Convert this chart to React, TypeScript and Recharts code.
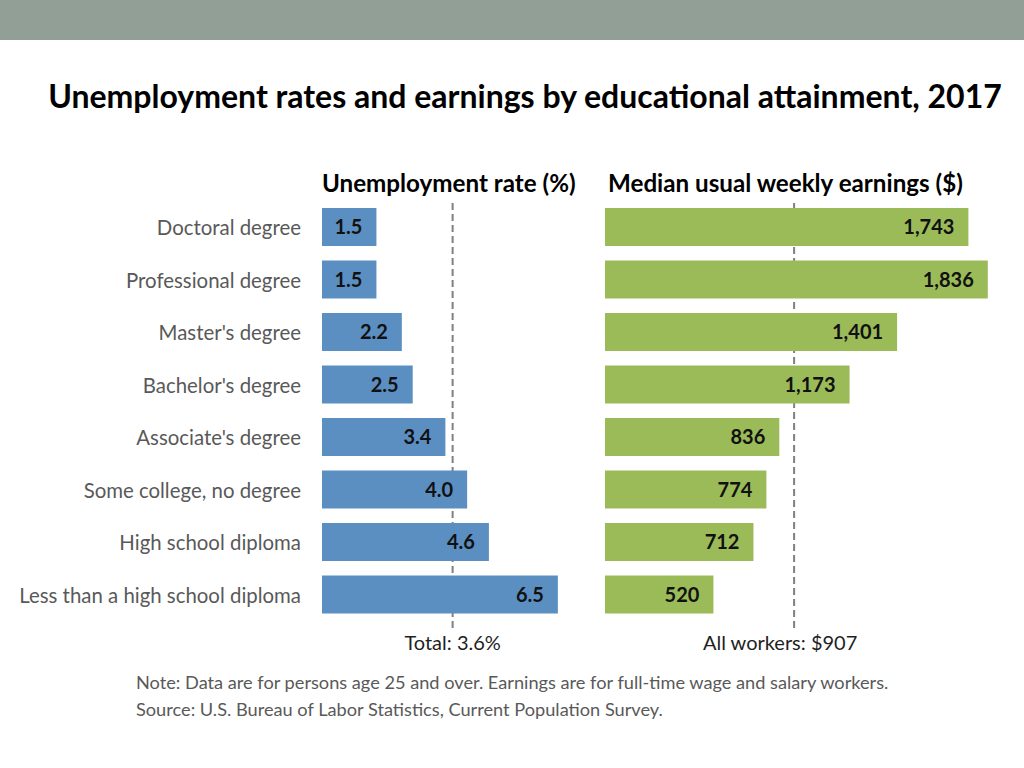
import React from "react";
import { BarChart, Bar, XAxis, YAxis, ReferenceLine, LabelList } from "recharts";

const categories = [
  "Doctoral degree",
  "Professional degree",
  "Master's degree",
  "Bachelor's degree",
  "Associate's degree",
  "Some college, no degree",
  "High school diploma",
  "Less than a high school diploma",
];
const unemploymentRate = [1.5, 1.5, 2.2, 2.5, 3.4, 4.0, 4.6, 6.5];
const weeklyEarnings = [1743, 1836, 1401, 1173, 836, 774, 712, 520];
const totalRate = 3.6;
const allWorkers = 907;

const data = categories.map((name, i) => ({
  name,
  rate: unemploymentRate[i],
  earnings: weeklyEarnings[i],
}));

const FONT = "Lato, 'Open Sans', sans-serif";
const BLUE = "#5B8FC2";
const GREEN = "#9BBB59";
const DASH = "#808080";

const CategoryTick = (props: any) => {
  const { y, payload } = props;
  return (
    <text
      x={301}
      y={y}
      textAnchor="end"
      dominantBaseline="central"
      fill="#595959"
      fontSize={20.4}
      fontFamily={FONT}
    >
      {payload.value}
    </text>
  );
};

const refLabel = (text: string, dx: number) => (props: any) => {
  const vb = props.viewBox || {};
  return (
    <text
      x={vb.x + dx}
      y={vb.y + vb.height + 22}
      textAnchor="middle"
      fill="#1f1f1f"
      fontSize={20}
      fontFamily={FONT}
    >
      {text}
    </text>
  );
};

const barLabelStyle = {
  fill: "#111",
  fontSize: 20,
  fontWeight: 700,
  fontFamily: FONT,
};

export default function App() {
  return (
    <div
      style={{
        position: "absolute",
        left: 0,
        top: 0,
        width: 1024,
        height: 768,
        background: "#fff",
        fontFamily: FONT,
        overflow: "hidden",
      }}
    >
      <div
        style={{
          position: "absolute",
          left: 0,
          top: 0,
          width: 1024,
          height: 40,
          background: "#929F97",
        }}
      />
      <div
        style={{
          position: "absolute",
          left: 0,
          width: 1050,
          top: 76,
          textAlign: "center",
          fontSize: 32,
          fontWeight: 700,
          color: "#000",
          whiteSpace: "nowrap",
        }}
      >
        Unemployment rates and earnings by educational attainment, 2017
      </div>
      <div
        style={{
          position: "absolute",
          left: 322,
          top: 168,
          fontSize: 24.2,
          fontWeight: 700,
          color: "#000",
          whiteSpace: "nowrap",
        }}
      >
        Unemployment rate (%)
      </div>
      <div
        style={{
          position: "absolute",
          left: 608,
          top: 168,
          fontSize: 24.2,
          fontWeight: 700,
          color: "#000",
          whiteSpace: "nowrap",
        }}
      >
        Median usual weekly earnings ($)
      </div>

      <div style={{ position: "absolute", left: 0, top: 0 }}>
        <BarChart
          width={600}
          height={700}
          data={data}
          layout="vertical"
          margin={{ top: 201, right: 24, bottom: 72, left: 0 }}
        >
          <XAxis type="number" domain={[0, 7]} hide />
          <YAxis
            type="category"
            dataKey="name"
            width={322}
            axisLine={false}
            tickLine={false}
            tick={<CategoryTick />}
            padding={{ top: 0, bottom: 7 }}
            interval={0}
          />
          <ReferenceLine
            x={totalRate}
            stroke={DASH}
            strokeWidth={2}
            strokeDasharray="7 4"
            zIndex={100}
            label={refLabel(`Total: ${totalRate}%`, 0)}
          />
          <Bar dataKey="rate" fill={BLUE} barSize={38} isAnimationActive={false}>
            <LabelList
              dataKey="rate"
              position="insideRight"
              offset={14}
              formatter={(v: any) => Number(v).toFixed(1)}
              style={barLabelStyle}
            />
          </Bar>
        </BarChart>
      </div>

      <div style={{ position: "absolute", left: 600, top: 0 }}>
        <BarChart
          width={424}
          height={700}
          data={data}
          layout="vertical"
          margin={{ top: 201, right: 2, bottom: 72, left: 5 }}
        >
          <XAxis type="number" domain={[0, 2000]} hide />
          <YAxis
            type="category"
            dataKey="name"
            hide
            padding={{ top: 0, bottom: 7 }}
          />
          <ReferenceLine
            x={allWorkers}
            stroke={DASH}
            strokeWidth={2}
            strokeDasharray="7 4"
            zIndex={100}
            label={refLabel(`All workers: $${allWorkers}`, -14)}
          />
          <Bar dataKey="earnings" fill={GREEN} barSize={38} isAnimationActive={false}>
            <LabelList
              dataKey="earnings"
              position="insideRight"
              offset={14}
              formatter={(v: any) => Number(v).toLocaleString("en-US")}
              style={barLabelStyle}
            />
          </Bar>
        </BarChart>
      </div>

      <div
        style={{
          position: "absolute",
          left: 136,
          top: 669,
          fontSize: 18.2,
          lineHeight: "27px",
          color: "#595959",
          whiteSpace: "nowrap",
        }}
      >
        <div>
          Note: Data are for persons age 25 and over. Earnings are for full-time wage and salary workers.
        </div>
        <div>Source: U.S. Bureau of Labor Statistics, Current Population Survey.</div>
      </div>
    </div>
  );
}
